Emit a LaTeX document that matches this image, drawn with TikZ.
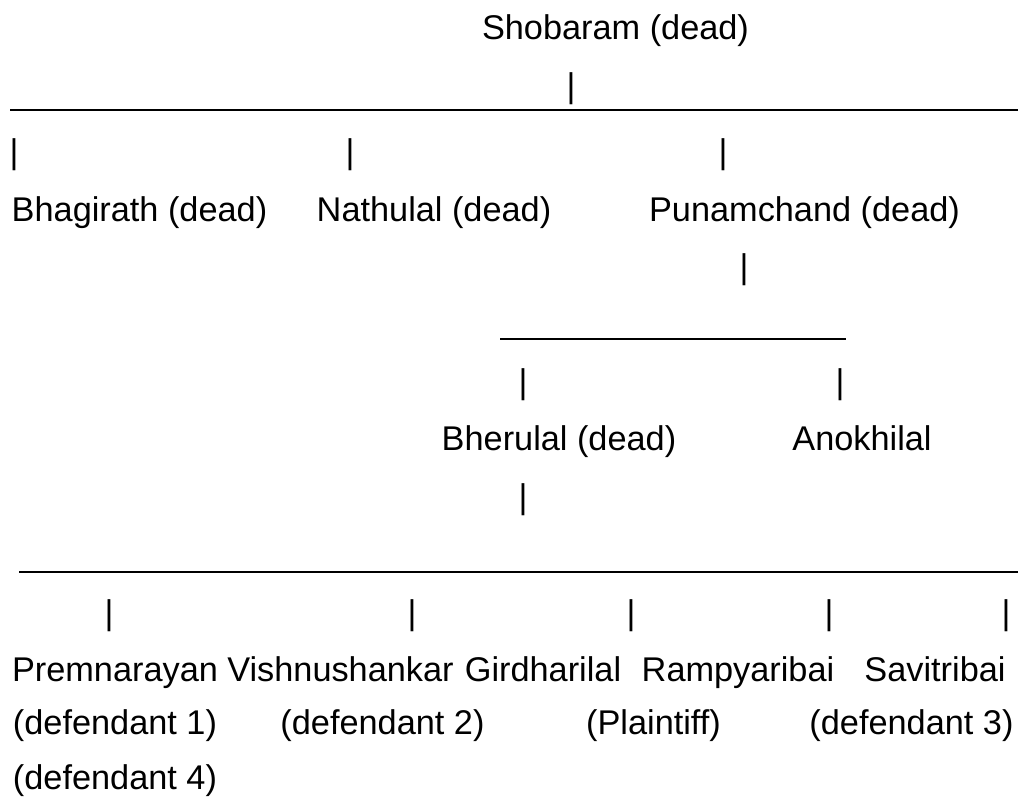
\documentclass[tikz,border=0pt]{standalone}
\usepackage{fontspec}
\setmainfont{Liberation Sans}

\begin{document}
\begin{tikzpicture}[x=1pt, y=-1pt, every node/.style={font=\fontsize{34.3}{41}\selectfont, inner sep=0pt, anchor=base}, rule/.style={line width=2.2pt}]
    \useasboundingbox (0,0) rectangle (1029,801);
    % first generation
    \node (sho) at (615.5,39) {Shobaram (dead)};
    \node (b0) at (571,97) {|};
    \coordinate (r1w) at (10,110);
    \coordinate (r1e) at (1018,110);
    \draw[rule,line width=2.4pt] (r1w)--(r1e);
    \node (b1) at (14,163) {|};
    \node (b2) at (350,163) {|};
    \node (b3) at (723,163) {|};
    \node (bha) at (139.5,221) {Bhagirath (dead)};
    \node (nat) at (434,221) {Nathulal (dead)};
    \node (pun) at (804.5,221) {Punamchand (dead)};
    % second generation
    \node (b4) at (744,278) {|};
    \coordinate (r2w) at (500,339);
    \coordinate (r2e) at (846,339);
    \draw[rule] (r2w)--(r2e);
    \node (b5) at (523,393) {|};
    \node (b6) at (840,393) {|};
    \node (bhe) at (559,450) {Bherulal (dead)};
    \node (ano) at (862,450) {Anokhilal};
    % third generation
    \node (b7) at (523,508) {|};
    \coordinate (r3w) at (19,572);
    \coordinate (r3e) at (1018,572);
    \draw[rule] (r3w)--(r3e);
    \node (b8) at (109,624) {|};
    \node (b9) at (412,624) {|};
    \node (b10) at (631,624) {|};
    \node (b11) at (829,624) {|};
    \node (b12) at (1006,624) {|};
    \node (pre) at (115,681) {Premnarayan};
    \node (vis) at (340.5,681) {Vishnushankar};
    \node (gir) at (543,681) {Girdharilal};
    \node (ram) at (738,681) {Rampyaribai};
    \node (sav) at (935,681) {Savitribai};
    \node (d1) at (115,734) {(defendant 1)};
    \node (d2) at (382.5,734) {(defendant 2)};
    \node (pl) at (653.5,734) {(Plaintiff)};
    \node (d3) at (911.5,734) {(defendant 3)};
    \node (d4) at (115,789) {(defendant 4)};
\end{tikzpicture}
\end{document}
